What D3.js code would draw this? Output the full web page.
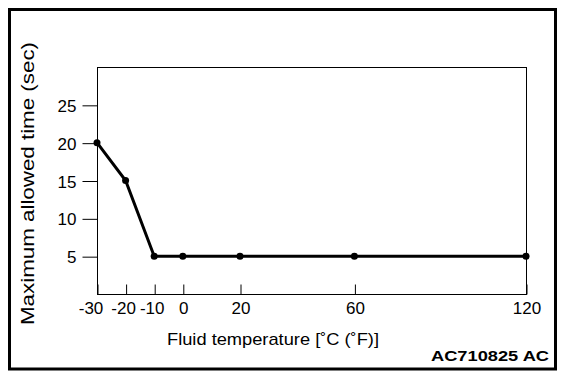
<!DOCTYPE html>
<html>
<head>
<meta charset="utf-8">
<script src="https://cdn.jsdelivr.net/npm/d3@7"></script>
<style>
  body { margin: 0; background: #fff; }
  svg { display: block; font-family: "Liberation Sans", Arial, Helvetica, sans-serif; }
</style>
</head>
<body>
<div id="chart"></div>
<script>
  // data
  var temps = [-30, -20, -10, 0, 20, 60, 120];
  var times = [20, 15, 5, 5, 5, 5, 5];
  var xTicks = [-30, -20, -10, 0, 20, 60, 120];
  var yTicks = [5, 10, 15, 20, 25];

  var width = 576, height = 380;
  var plotLeft = 97, plotRight = 526, plotTop = 67, plotBottom = 294;

  var svg = d3.select("#chart").append("svg")
    .attr("width", width)
    .attr("height", height);

  // outer frame
  svg.append("rect")
    .attr("x", 9.5).attr("y", 9.5)
    .attr("width", 546).attr("height", 359.5)
    .attr("fill", "none")
    .attr("stroke", "#000")
    .attr("stroke-width", 3);

  var x = d3.scaleLinear().domain([-30, 120]).range([plotLeft, plotRight]);
  var y = d3.scaleLinear().domain([0, 30]).range([plotBottom, plotTop]);

  // plot box
  svg.append("rect")
    .attr("x", plotLeft + 0.5).attr("y", plotTop + 0.5)
    .attr("width", plotRight - plotLeft).attr("height", plotBottom - plotTop)
    .attr("fill", "none")
    .attr("stroke", "#000")
    .attr("stroke-width", 1);

  // y axis: ticks point outwards
  var yAxis = d3.axisLeft(y).tickValues(yTicks).tickSize(15).tickPadding(6);
  var gy = svg.append("g")
    .attr("transform", "translate(" + (plotLeft + 0.5) + ",0.5)")
    .call(yAxis);
  gy.select(".domain").remove();
  gy.selectAll("text")
    .attr("font-size", 17)
    .attr("font-family", "Liberation Sans, Arial, sans-serif")
    .attr("fill", "#000")
    .attr("dy", "0.36em");

  // x axis: ticks point inwards, digits centred under the tick
  var xAxis = d3.axisBottom(x).tickValues(xTicks).tickSizeInner(-10).tickSizeOuter(0).tickPadding(7);
  var gx = svg.append("g")
    .attr("transform", "translate(0.5," + (plotBottom + 0.5) + ")")
    .call(xAxis);
  gx.select(".domain").remove();
  gx.selectAll("text")
    .attr("font-size", 17)
    .attr("font-family", "Liberation Sans, Arial, sans-serif")
    .attr("fill", "#000")
    .attr("y", 7)
    .attr("dy", "0.71em")
    .attr("dx", function(d, i) {
      if (i === 0) return -7;
      return d < 0 ? -3 : 0;
    })
    .text(function(d) { return d; });

  // curve
  var pts = temps.map(function(t, i) { return [t, times[i]]; });
  var line = d3.line()
    .x(function(d) { return x(d[0]); })
    .y(function(d) { return y(d[1]); });

  svg.append("path")
    .datum(pts)
    .attr("d", line)
    .attr("fill", "none")
    .attr("stroke", "#000")
    .attr("stroke-width", 3);

  svg.selectAll("circle.pt")
    .data(pts)
    .enter()
    .append("circle")
    .attr("class", "pt")
    .attr("cx", function(d) { return x(d[0]); })
    .attr("cy", function(d) { return y(d[1]); })
    .attr("r", 3.5)
    .attr("fill", "#000");

  // titles
  svg.append("text")
    .attr("transform", "translate(34,325) rotate(-90)")
    .attr("font-size", 18)
    .attr("textLength", 283)
    .attr("lengthAdjust", "spacingAndGlyphs")
    .text("Maximum allowed time (sec)");

  svg.append("text")
    .attr("x", 167)
    .attr("y", 345)
    .attr("font-size", 17)
    .attr("textLength", 212)
    .attr("lengthAdjust", "spacingAndGlyphs")
    .text("Fluid temperature [˚C (˚F)]");

  svg.append("text")
    .attr("x", 431)
    .attr("y", 361)
    .attr("font-size", 15)
    .attr("font-weight", "bold")
    .attr("textLength", 118)
    .attr("lengthAdjust", "spacingAndGlyphs")
    .text("AC710825 AC");
</script>
</body>
</html>
